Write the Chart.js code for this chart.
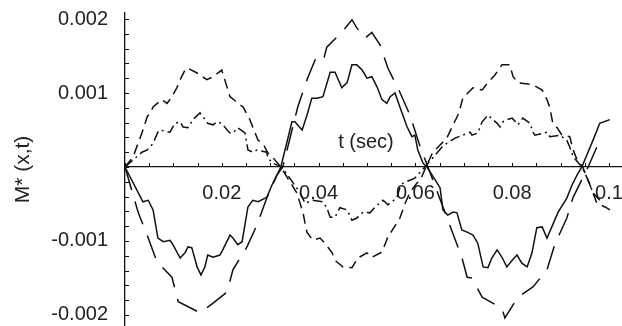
<!DOCTYPE html>
<html>
<head>
<meta charset="utf-8">
<script src="https://cdn.jsdelivr.net/npm/chart.js@4.4.1/dist/chart.umd.min.js"></script>
<style>
  html, body { margin: 0; padding: 0; background: #fff; }
  #wrap { width: 622px; height: 326px; position: relative; }
</style>
</head>
<body>
<div id="wrap"><canvas id="chart"></canvas></div>
<script>
// [t (sec), M*(x,t)] pairs
const solid = [[0,0],[0.0037,-0.00047],[0.0048,-0.00045],[0.0058,-0.00058],[0.0068,-0.00096],[0.0079,-0.00101],[0.0093,-0.00099],[0.0099,-0.00105],[0.0114,-0.00123],[0.0124,-0.00116],[0.013,-0.00108],[0.0138,-0.00109],[0.0149,-0.00135],[0.0157,-0.00146],[0.0165,-0.00135],[0.0171,-0.00119],[0.0182,-0.00122],[0.0196,-0.00119],[0.0202,-0.00112],[0.0217,-0.00092],[0.0223,-0.00096],[0.0233,-0.00105],[0.0242,-0.00101],[0.0254,-0.00054],[0.0264,-0.00045],[0.0275,-0.00047],[0.0293,-0.00041],[0.0304,-0.00024],[0.0322,0],
  [0.0345,0.00061],[0.0351,0.00061],[0.0366,0.0005],[0.0376,0.0007],[0.0386,0.00093],[0.0397,0.00093],[0.0409,0.00095],[0.0424,0.00128],[0.0434,0.00128],[0.0448,0.00107],[0.0459,0.00114],[0.0469,0.00138],[0.0479,0.00138],[0.049,0.00131],[0.05,0.0012],[0.051,0.00122],[0.0521,0.00108],[0.0531,0.00091],[0.0541,0.00086],[0.0548,0.00095],[0.0558,0.001],[0.0568,0.00081],[0.0583,0.00054],[0.0593,0.00041],[0.0599,0.00043],[0.0605,0.00023],[0.0616,0.00005],[0.0624,0],
  [0.0651,-0.00028],[0.0657,-0.00058],[0.0667,-0.00065],[0.0678,-0.00061],[0.0686,-0.00062],[0.0696,-0.00085],[0.0707,-0.00088],[0.0719,-0.00092],[0.0729,-0.00103],[0.074,-0.00135],[0.075,-0.00136],[0.0758,-0.00123],[0.0769,-0.00112],[0.0779,-0.00122],[0.0789,-0.00135],[0.08,-0.00126],[0.081,-0.00119],[0.082,-0.0013],[0.0831,-0.00135],[0.0841,-0.00116],[0.0851,-0.00082],[0.0862,-0.00081],[0.0872,-0.00096],[0.0882,-0.00081],[0.0895,-0.00061],[0.0913,-0.00042],[0.0924,-0.00024],[0.0934,-0.00011],[0.0944,0],[0.0967,0.00036],[0.0981,0.00059],[0.1002,0.00064]];

const longDash = [[0,0],[0.0027,-0.00061],[0.0048,-0.00096],[0.0066,-0.00128],[0.0097,-0.00149],[0.011,-0.00182],[0.0155,-0.00197],[0.0182,-0.00184],[0.0211,-0.00169],[0.0223,-0.00139],[0.0252,-0.00108],[0.0273,-0.00078],[0.0293,-0.00042],[0.0314,-0.00011],[0.0326,0],
  [0.0357,0.00081],[0.0376,0.00118],[0.0393,0.00145],[0.0409,0.00142],[0.0417,0.00162],[0.0448,0.00182],[0.0469,0.00199],[0.0479,0.00188],[0.0496,0.00174],[0.051,0.00182],[0.0527,0.00165],[0.0543,0.00134],[0.0568,0.00101],[0.0589,0.0007],[0.061,0.00027],[0.0626,0],
  [0.0696,-0.00122],[0.0707,-0.00149],[0.0717,-0.0015],[0.0738,-0.00176],[0.0779,-0.00191],[0.0785,-0.00204],[0.0812,-0.00176],[0.0843,-0.00162],[0.0872,-0.00139],[0.0888,-0.00105],[0.0913,-0.00069],[0.0926,-0.00041],[0.0957,0],[0.0981,0.00036]];

const dashed = [[0,0],[0.0017,0.00014],[0.0027,0.00032],[0.0035,0.00046],[0.0046,0.00068],[0.0052,0.00073],[0.0058,0.00081],[0.0076,0.00091],[0.0087,0.00086],[0.0097,0.00095],[0.0107,0.00107],[0.0114,0.00118],[0.0124,0.00131],[0.0128,0.00134],[0.0149,0.00127],[0.0169,0.00118],[0.0182,0.00122],[0.02,0.00131],[0.0217,0.00095],[0.0244,0.00081],[0.0258,0.00064],[0.0264,0.00054],[0.0275,0.00036],[0.0285,0.00032],[0.0295,0.00019],[0.0304,0.00014],[0.0322,0],
  [0.0355,-0.00035],[0.0368,-0.00062],[0.0372,-0.00076],[0.0376,-0.00088],[0.0388,-0.00099],[0.0403,-0.00096],[0.0413,-0.00103],[0.0428,-0.00116],[0.0434,-0.00126],[0.045,-0.00135],[0.0469,-0.00136],[0.0481,-0.00123],[0.05,-0.00116],[0.051,-0.00122],[0.0531,-0.00115],[0.0543,-0.00095],[0.0568,-0.00069],[0.0579,-0.00049],[0.0589,-0.00034],[0.0603,-0.00022],[0.061,-0.00018],[0.0622,0],
  [0.0636,0.0002],[0.0647,0.00027],[0.0665,0.00039],[0.069,0.00073],[0.0698,0.00093],[0.0719,0.00107],[0.0738,0.00104],[0.075,0.00114],[0.0764,0.00124],[0.0779,0.00138],[0.0795,0.00138],[0.0802,0.00122],[0.0812,0.00114],[0.0843,0.00111],[0.0862,0.00104],[0.0872,0.00091],[0.0878,0.0008],[0.0884,0.00059],[0.0893,0.00053],[0.0903,0.00043],[0.0919,0.00041],[0.0926,0.00023],[0.0934,0.0001],[0.0946,0],[0.0967,-0.00035],[0.0975,-0.00049],[0.0992,-0.00054],[0.1002,-0.00058]];

const dashDot = [[0,0],[0.0035,0.0002],[0.0046,0.00023],[0.0058,0.00032],[0.0068,0.00047],[0.0072,0.0005],[0.0093,0.00047],[0.0103,0.00059],[0.0114,0.00061],[0.012,0.00054],[0.013,0.00053],[0.0134,0.00057],[0.014,0.00064],[0.0155,0.00073],[0.0161,0.00068],[0.0171,0.00059],[0.0182,0.00057],[0.019,0.00061],[0.02,0.00059],[0.0211,0.0005],[0.0217,0.00046],[0.0223,0.00046],[0.0233,0.00053],[0.0248,0.00046],[0.0254,0.00023],[0.0264,0.0002],[0.0273,0.00023],[0.0293,0.0002],[0.0295,0.00012],[0.0306,0.00005],[0.0324,0],
  [0.0362,-0.00035],[0.0372,-0.00049],[0.0388,-0.00045],[0.0409,-0.00047],[0.0417,-0.00055],[0.0424,-0.00068],[0.0434,-0.00068],[0.0444,-0.00055],[0.0459,-0.00058],[0.0469,-0.00072],[0.0479,-0.00069],[0.0492,-0.00061],[0.0506,-0.00062],[0.0517,-0.00054],[0.0533,-0.00045],[0.0537,-0.00047],[0.0543,-0.00051],[0.0552,-0.00047],[0.0562,-0.00041],[0.0568,-0.00028],[0.0574,-0.00022],[0.0599,-0.00015],[0.062,0],
  [0.0655,0.00027],[0.0665,0.00032],[0.0682,0.00039],[0.0698,0.00043],[0.0713,0.00047],[0.0717,0.00043],[0.0729,0.00046],[0.0738,0.00061],[0.075,0.0007],[0.0769,0.00059],[0.0775,0.00054],[0.0781,0.00061],[0.0789,0.00064],[0.08,0.00066],[0.0812,0.00057],[0.0822,0.00066],[0.0837,0.00059],[0.0843,0.00047],[0.0847,0.00043],[0.0872,0.00047],[0.0878,0.00041],[0.0899,0.00043],[0.0913,0.00036],[0.0919,0.00027],[0.0926,0.00014],[0.0944,0],[0.0955,-0.00015],[0.0961,-0.00024],[0.0967,-0.00035],[0.0981,-0.00045]];

const xTickLabels = [0.02, 0.04, 0.06, 0.08, 0.1];
const yTickLabels = [-0.002, -0.001, 0.001, 0.002];

const FONT = '"Liberation Sans", Arial, Helvetica, sans-serif';
const INK = '#111';

const toPoints = (pairs) => pairs.map(([t, m]) => ({ x: t, y: m }));
const isLabel = (list, v) => list.some(l => Math.abs(l - v) < 1e-9);

const lineSet = (pairs, dash) => ({
  data: toPoints(pairs),
  borderColor: INK,
  borderWidth: 1.5,
  borderDash: dash,
  pointRadius: 0,
  tension: 0,
  fill: false
});

// small inward tick marks on both axes, plus the "t (sec)" axis label
const axisMarks = {
  id: 'axisMarks',
  afterDraw(chart) {
    const { ctx, scales: { x, y } } = chart;
    const y0 = y.getPixelForValue(0);
    const x0 = x.getPixelForValue(0);
    ctx.save();
    ctx.strokeStyle = INK;
    ctx.lineWidth = 1;
    ctx.beginPath();
    x.ticks.forEach(t => {
      const px = Math.round(x.getPixelForValue(t.value)) + 0.5;
      ctx.moveTo(px, y0);
      ctx.lineTo(px, y0 - 4);
    });
    y.ticks.forEach(t => {
      const py = Math.round(y.getPixelForValue(t.value)) + 0.5;
      ctx.moveTo(x0, py);
      ctx.lineTo(x0 + 4, py);
    });
    ctx.stroke();
    ctx.font = '20px ' + FONT;
    ctx.fillStyle = '#222';
    ctx.textAlign = 'center';
    ctx.textBaseline = 'middle';
    ctx.fillText('t (sec)', x.getPixelForValue(0.0498), y0 - 24);
    ctx.restore();
  }
};

new Chart(document.getElementById('chart'), {
  type: 'line',
  data: {
    datasets: [
      lineSet(solid, []),
      lineSet(longDash, [24, 12]),
      lineSet(dashed, [10, 6]),
      lineSet(dashDot, [10, 4, 2, 4])
    ]
  },
  options: {
    responsive: true,
    maintainAspectRatio: false,
    animation: false,
    layout: { padding: { top: 13, left: 0, right: 0, bottom: 0 } },
    plugins: {
      legend: { display: false },
      tooltip: { enabled: false }
    },
    scales: {
      x: {
        type: 'linear',
        position: { y: 0 },
        min: 0,
        max: 0.1027,
        grid: { display: false, drawTicks: false },
        border: { display: true, color: INK, width: 1.3 },
        ticks: {
          stepSize: 0.005,
          includeBounds: false,
          autoSkip: false,
          maxRotation: 0,
          padding: 15,
          color: '#222',
          font: { family: FONT, size: 20 },
          callback: (v) => isLabel(xTickLabels, v) ? String(parseFloat(v.toFixed(2))) : ''
        },
        afterFit: (scale) => { scale.paddingLeft = 0; scale.paddingRight = 0; }
      },
      y: {
        type: 'linear',
        position: 'left',
        min: -0.002149,
        max: 0.002081,
        grid: { display: false, drawTicks: false },
        border: { display: true, color: INK, width: 1.3 },
        ticks: {
          stepSize: 0.0002,
          includeBounds: false,
          autoSkip: false,
          padding: 17,
          color: '#222',
          font: { family: FONT, size: 20 },
          callback: (v) => isLabel(yTickLabels, v) ? v.toFixed(3) : ''
        },
        title: {
          display: true,
          text: 'M* (x,t)',
          color: '#222',
          font: { family: FONT, size: 21 },
          padding: { top: 11, bottom: 0 }
        },
        afterFit: (scale) => {
          scale.width = 125;
          scale.paddingTop = 0;
          scale.paddingBottom = 0;
        }
      }
    }
  },
  plugins: [axisMarks]
});
</script>
</body>
</html>
